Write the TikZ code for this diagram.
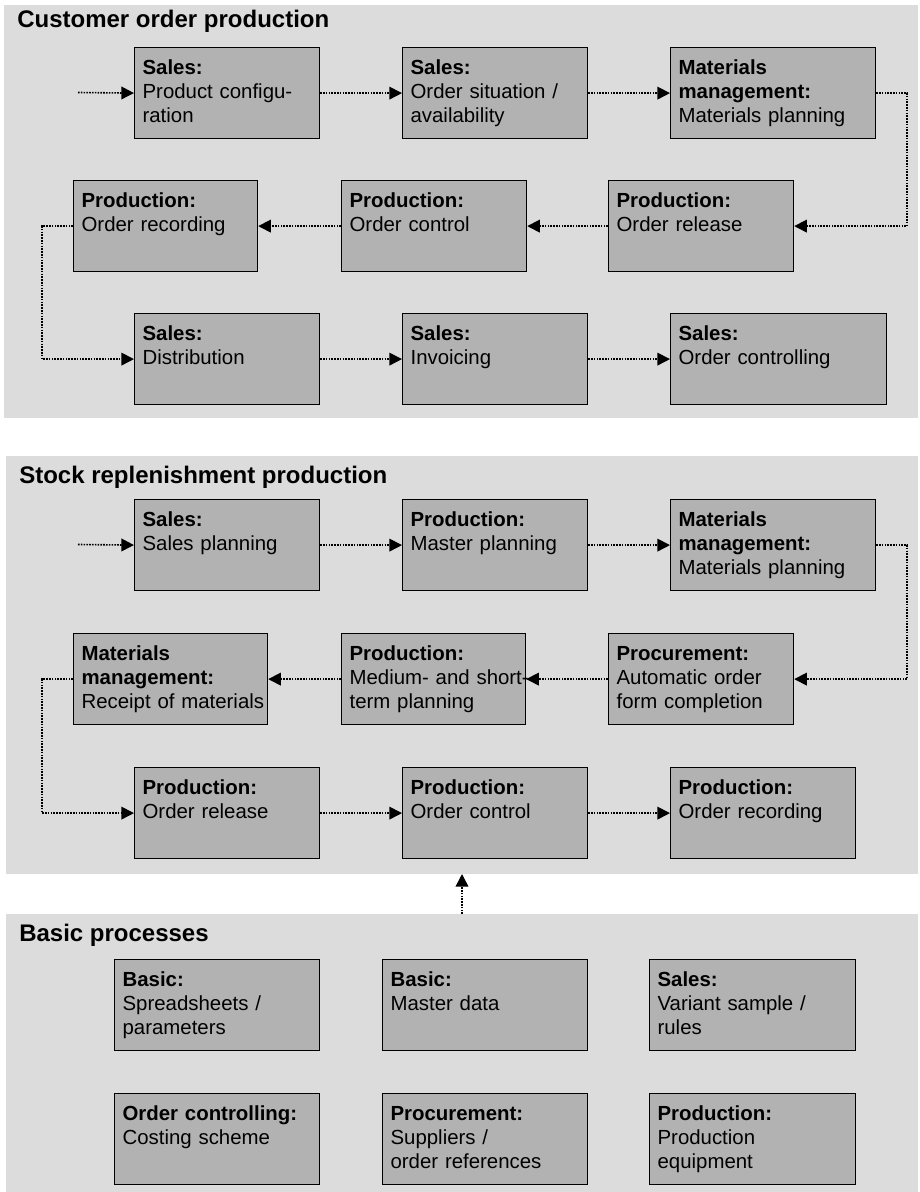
\documentclass[tikz,border=0pt]{standalone}
\usepackage{fontspec}
\setmainfont{Liberation Sans}
\usetikzlibrary{arrows.meta}

\definecolor{panelgray}{HTML}{DCDCDC}
\definecolor{boxgray}{HTML}{B2B2B2}

\tikzset{
  panel/.style={fill=panelgray},
  proc/.style={draw=black, line width=0.9pt, fill=boxgray, anchor=north west,
    inner xsep=6pt, inner ysep=0pt, text height=20.25pt, text depth=48pt,
    align=left, font=\fontsize{15.3}{18}\selectfont},
  heading/.style={anchor=base west, inner sep=0pt, font=\fontsize{18}{21}\selectfont\bfseries},
  flow/.style={dash pattern=on 1.2pt off 0.9pt, line width=1.2pt,
    -{Triangle[length=9.5pt,width=9.5pt]}},
}

% box: name, left, top, width (px), text
\newcommand{\proc}[5]{
  \pgfmathsetlengthmacro{\boxtw}{#4*0.75pt-12pt}
  \node[proc, text width=\boxtw] (#1) at (#2,#3) {#5};
}

\begin{document}
\begin{tikzpicture}[x=0.75pt,y=-0.75pt]
  \fill[white] (0,0) rectangle (920,1192);
  \useasboundingbox (0,0) rectangle (920,1192);

  % customer order production
  \fill[panel] (4,5) rectangle (918,418);
  \node[heading] (custtitle) at (17,27) {Customer order production};
  \proc{cs1}{134}{47}{185}{\textbf{Sales:}\\Product configu-\\ration}
  \proc{cs2}{402}{47}{185}{\textbf{Sales:}\\Order situation /\\availability}
  \proc{cs3}{670}{47}{205}{\textbf{Materials}\\\textbf{management:}\\Materials planning}
  \proc{cp1}{73}{180}{184}{\textbf{Production:}\\Order recording}
  \proc{cp2}{341}{180}{185}{\textbf{Production:}\\Order control}
  \proc{cp3}{608}{180}{185}{\textbf{Production:}\\Order release}
  \proc{cd1}{134}{313}{185}{\textbf{Sales:}\\Distribution}
  \proc{cd2}{402}{313}{185}{\textbf{Sales:}\\Invoicing}
  \proc{cd3}{670}{313}{216}{\textbf{Sales:}\\Order controlling}
  \coordinate (custin) at (78,92.5);
  \draw[flow] (custin) -- (cs1.west);
  \draw[flow] (cs1.east) -- (cs2.west);
  \draw[flow] (cs2.east) -- (cs3.west);
  \draw[flow] (cs3.east) -- ++(31,0) |- (cp3.east);
  \draw[flow] (cp3.west) -- (cp2.east);
  \draw[flow] (cp2.west) -- (cp1.east);
  \draw[flow] (cp1.west) -- ++(-31,0) |- (cd1.west);
  \draw[flow] (cd1.east) -- (cd2.west);
  \draw[flow] (cd2.east) -- (cd3.west);

  % stock replenishment production
  \fill[panel] (6,456) rectangle (918,874);
  \node[heading] (stocktitle) at (19,483) {Stock replenishment production};
  \proc{ss1}{134}{499}{185}{\textbf{Sales:}\\Sales planning}
  \proc{ss2}{402}{499}{185}{\textbf{Production:}\\Master planning}
  \proc{ss3}{670}{499}{205}{\textbf{Materials}\\\textbf{management:}\\Materials planning}
  \proc{sm1}{73}{633}{194}{\textbf{Materials}\\\textbf{management:}\\\mbox{Receipt of materials}}
  \proc{sm2}{341}{633}{184}{\textbf{Production:}\\\mbox{Medium- and short-}\\term planning}
  \proc{sm3}{608}{633}{185}{\textbf{Procurement:}\\Automatic order\\form completion}
  \proc{so1}{134}{767}{185}{\textbf{Production:}\\Order release}
  \proc{so2}{402}{767}{185}{\textbf{Production:}\\Order control}
  \proc{so3}{670}{767}{185}{\textbf{Production:}\\Order recording}
  \coordinate (stockin) at (78,544.5);
  \draw[flow] (stockin) -- (ss1.west);
  \draw[flow] (ss1.east) -- (ss2.west);
  \draw[flow] (ss2.east) -- (ss3.west);
  \draw[flow] (ss3.east) -- ++(31,0) |- (sm3.east);
  \draw[flow] (sm3.west) -- (sm2.east);
  \draw[flow] (sm2.west) -- (sm1.east);
  \draw[flow] (sm1.west) -- ++(-31,0) |- (so1.west);
  \draw[flow] (so1.east) -- (so2.west);
  \draw[flow] (so2.east) -- (so3.west);

  % basic processes
  \fill[panel] (6,914) rectangle (918,1192);
  \node[heading] (basictitle) at (19,941) {Basic processes};
  \proc{b1}{114}{959}{205}{\textbf{Basic:}\\Spreadsheets /\\parameters}
  \proc{b2}{382}{959}{205}{\textbf{Basic:}\\Master data}
  \proc{b3}{649}{959}{206}{\textbf{Sales:}\\Variant sample /\\rules}
  \proc{b4}{114}{1093}{205}{\textbf{Order controlling:}\\Costing scheme}
  \proc{b5}{382}{1093}{205}{\textbf{Procurement:}\\Suppliers /\\order references}
  \proc{b6}{649}{1093}{206}{\textbf{Production:}\\Production\\equipment}
  \coordinate (basictop) at (462,914);
  \coordinate (stockbottom) at (462,874);
  \draw[flow] (basictop) -- (stockbottom);
\end{tikzpicture}
\end{document}
